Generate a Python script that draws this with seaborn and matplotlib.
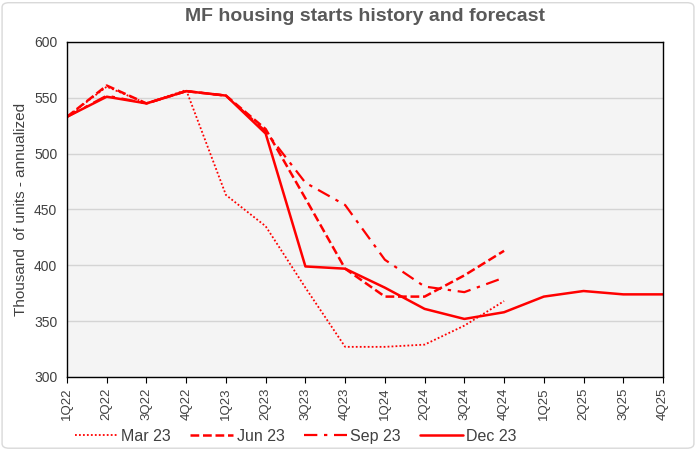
import seaborn as sns
import pandas as pd
import numpy as np
import matplotlib.pyplot as plt
from matplotlib.patches import FancyBboxPatch

quarters = ['1Q22', '2Q22', '3Q22', '4Q22', '1Q23', '2Q23', '3Q23', '4Q23',
            '1Q24', '2Q24', '3Q24', '4Q24', '1Q25', '2Q25', '3Q25', '4Q25']

mar23 = [533, 560, 545, 557, 463, 435, 380, 327, 327, 329, 346, 368]
jun23 = [533, 561, 545, 556, 552, 522, 460, 397, 372, 372, 391, 413]
sep23 = [533, 552, 545, 556, 552, 520, 474, 454, 405, 381, 376, 389]
dec23 = [533, 551, 545, 556, 552, 518, 399, 397, 380, 361, 352, 358, 372, 377, 374, 374]

series = {'Mar 23': mar23, 'Jun 23': jun23, 'Sep 23': sep23, 'Dec 23': dec23}
styles = {'Mar 23': (0, (1, 1.2)), 'Jun 23': (0, (3.5, 1.5)),
          'Sep 23': (0, (6, 3, 1.5, 3)), 'Dec 23': '-'}
widths = {'Mar 23': 1.3, 'Jun 23': 1.8, 'Sep 23': 1.6, 'Dec 23': 1.8}

rows = []
for name, vals in series.items():
    for i, v in enumerate(vals):
        rows.append({'series': name, 'idx': i, 'value': v})
df = pd.DataFrame(rows)

sns.set_style('white')
plt.rcParams['font.family'] = ['Liberation Sans', 'DejaVu Sans']

fig = plt.figure(figsize=(6.96, 4.5), dpi=100)
ax = fig.add_axes([67 / 696, 1 - 377 / 450, 596 / 696, 335 / 450])
ax.set_facecolor('#f4f4f4')

for name in series:
    sub = df[df['series'] == name]
    sns.lineplot(data=sub, x='idx', y='value', ax=ax, color='#ff0000',
                 linestyle=styles[name], linewidth=widths[name], label=name)

ax.set_xlim(0, len(quarters) - 1)
ax.set_ylim(300, 600)
ax.set_yticks(range(300, 601, 50))
ax.set_xticks(range(len(quarters)))
ax.set_xticklabels(quarters, rotation=90, fontsize=9.5, color='#404040')
ax.tick_params(axis='y', labelsize=10, labelcolor='#404040')
ax.tick_params(axis='x', length=4, direction='out', bottom=True, color='black')
ax.yaxis.grid(True, color='#d4d4d4', linewidth=1)
ax.xaxis.grid(False)
ax.set_axisbelow(True)
for sp in ax.spines.values():
    sp.set_color('black')
    sp.set_linewidth(1)
ax.set_xlabel('')
ax.set_ylabel('Thousand  of units - annualized', fontsize=11, color='#404040')

ax.set_title('MF housing starts history and forecast', fontsize=14,
             fontweight='bold', color='#595959', pad=15)

handles, labels = ax.get_legend_handles_labels()
ax.get_legend().remove()
leg = fig.legend(handles, labels, loc='center', bbox_to_anchor=(0.425, 0.03), ncol=4,
                 frameon=False, fontsize=11.5, handlelength=2.7, columnspacing=1.2,
                 handletextpad=0.2)
for t in leg.get_texts():
    t.set_color('#404040')

border = FancyBboxPatch((0.003, 0.004), 0.994, 0.99, boxstyle='round,pad=0,rounding_size=0.01',
                        transform=fig.transFigure, fill=False, edgecolor='#d9d9d9', linewidth=1)
fig.patches.append(border)

fig.savefig('out.png', dpi=100)
